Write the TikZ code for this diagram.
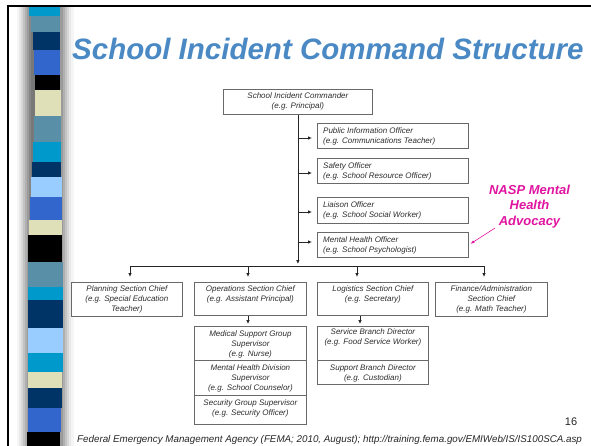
\documentclass[tikz,border=0pt]{standalone}
\usepackage{fontspec}
\setmainfont{Liberation Sans}
\usetikzlibrary{arrows.meta,calc}
\definecolor{titleblue}{RGB}{74,137,196}
\definecolor{naspcol}{RGB}{224,20,160}
\definecolor{sCyan}{RGB}{0,153,204}
\definecolor{sSteel}{RGB}{90,143,168}
\definecolor{sNavy}{RGB}{0,51,102}
\definecolor{sRoyal}{RGB}{51,102,204}
\definecolor{sKhaki}{RGB}{224,224,184}
\definecolor{sLight}{RGB}{153,204,255}
\definecolor{boxline}{RGB}{105,105,105}
\definecolor{txtgray}{RGB}{45,45,45}
\definecolor{sh1}{RGB}{245,245,245}
\definecolor{sh2}{RGB}{232,232,232}
\definecolor{sh3}{RGB}{215,215,215}
\definecolor{sh4}{RGB}{195,195,195}
\definecolor{sh5}{RGB}{175,175,175}
\definecolor{sh6}{RGB}{155,155,155}
\definecolor{sh7}{RGB}{135,135,135}
\definecolor{sh8}{RGB}{120,120,120}
\begin{document}
\begin{tikzpicture}[x=1pt,y=-1pt,
  box/.style={draw=boxline, line width=0.8pt, fill=white, rectangle, inner sep=0pt, anchor=north west},
  btxt/.style={font=\fontsize{8}{10}\selectfont\itshape, text=txtgray, inner sep=0pt, align=center, anchor=north},
  ltxt/.style={btxt, align=left, anchor=north west},
  conn/.style={draw=black!85, line width=0.8pt},
  arr/.style={conn, -{Latex[length=4pt,width=3.6pt]}},
]
\useasboundingbox (0,0) rectangle (591,446);
% side strip shadows
\fill[sh1] (17,7) rectangle (19,446);
\fill[sh2] (19,7) rectangle (21,446);
\fill[sh3] (21,7) rectangle (23,446);
\fill[sh4] (23,7) rectangle (25,446);
\fill[sh5] (25,7) rectangle (27,446);
\fill[sh6] (27,7) rectangle (29,446);
\fill[sh7] (29,7) rectangle (31,446);
\fill[sh8] (31,7) rectangle (36,446);
\fill[sh6] (57,7) rectangle (63,446);
\fill[sh5] (63,7) rectangle (65,446);
\fill[sh4] (65,7) rectangle (67,446);
\fill[sh3] (67,7) rectangle (69,446);
\fill[sh2] (69,7) rectangle (71,446);
\fill[sh1] (71,7) rectangle (74,446);
% stripes
\foreach \a/\b/\l/\r/\c in {7/16/29/60/sCyan, 16/32/31/60/sSteel, 32/50/33/60/sNavy,
  50/75/34/60/sRoyal, 75/90/35/60/black, 90/116/35/61/sKhaki, 116/142/34/61/sSteel,
  142/162/33/61/sCyan, 162/177/32/61/sNavy, 177/197/31/62/sLight, 197/220/30/62/sRoyal,
  220/235/29/62/sKhaki, 235/262/28/62/black, 262/287/28/63/sSteel, 287/300/28/63/sCyan,
  300/328/28/63/sNavy, 328/353/28/63/sLight, 353/372/28/63/sCyan, 372/388/28/62/sKhaki,
  388/408/28/62/sNavy, 408/432/28/61/sRoyal, 432/446/27/60/black}
  \fill[\c] (\l,\a) rectangle (\r,\b);
% frame
\draw[line width=2pt] (8,446) -- (8,6) -- (591,6);

% title
\node[font=\fontsize{29.5}{30}\selectfont\bfseries\itshape, text=titleblue, inner sep=0pt, anchor=base west] (title) at (72,60) {School Incident Command Structure};

% commander
\node[box, minimum width=149pt, minimum height=25pt] (cmd) at (223,89) {};
\node[btxt] (cmdt) at ([yshift=-4pt]cmd.north) {School Incident Commander\\(e.g. Principal)};

% command staff
\node[box, minimum width=151pt, minimum height=25pt] (pio) at (317,123) {};
\node[ltxt] (piot) at ([xshift=6pt,yshift=-5pt]pio.north west) {Public Information Officer\\(e.g. Communications Teacher)};
\node[box, minimum width=151pt, minimum height=25pt] (safe) at (317,158) {};
\node[ltxt] (safet) at ([xshift=6pt,yshift=-5pt]safe.north west) {Safety Officer\\(e.g. School Resource Officer)};
\node[box, minimum width=151pt, minimum height=26pt] (liai) at (317,197) {};
\node[ltxt] (liait) at ([xshift=6pt,yshift=-5pt]liai.north west) {Liaison Officer\\(e.g. School Social Worker)};
\node[box, minimum width=151pt, minimum height=25pt] (mho) at (317,232) {};
\node[ltxt] (mhot) at ([xshift=6pt,yshift=-5pt]mho.north west) {Mental Health Officer\\(e.g. School Psychologist)};

% sections
\node[box, minimum width=111pt, minimum height=34pt] (plan) at (71,282) {};
\node[btxt] (plant) at ([yshift=-3.5pt]plan.north) {Planning Section Chief\\(e.g. Special Education\\Teacher)};
\node[box, minimum width=112pt, minimum height=33pt] (ops) at (194,282) {};
\node[btxt] (opst) at ([yshift=-3.5pt]ops.north) {Operations Section Chief\\(e.g. Assistant Principal)};
\node[box, minimum width=111pt, minimum height=33pt] (logi) at (317,282) {};
\node[btxt] (logit) at ([yshift=-3.5pt]logi.north) {Logistics Section Chief\\(e.g. Secretary)};
\node[box, minimum width=112pt, minimum height=34pt] (fin) at (435,282) {};
\node[btxt] (fint) at ([yshift=-3.5pt]fin.north) {Finance/Administration\\Section Chief\\(e.g. Math Teacher)};

% operations stack
\node[box, minimum width=112pt, minimum height=34pt] (med) at (194,326) {};
\node[btxt] (medt) at ([yshift=-4.3pt]med.north) {Medical Support Group\\Supervisor\\(e.g. Nurse)};
\node[box, minimum width=112pt, minimum height=35pt] (mhd) at (194,360) {};
\node[btxt] (mhdt) at ([yshift=-4.3pt]mhd.north) {Mental Health Division\\Supervisor\\(e.g. School Counselor)};
\node[box, minimum width=112pt, minimum height=29pt] (sec) at (194,395) {};
\node[btxt] (sect) at ([yshift=-4.3pt]sec.north) {Security Group Supervisor\\(e.g. Security Officer)};

% logistics stack
\node[box, minimum width=111pt, minimum height=34pt] (svc) at (317,326) {};
\node[btxt] (svct) at ([yshift=-2.5pt]svc.north) {Service Branch Director\\(e.g. Food Service Worker)};
\node[box, minimum width=111pt, minimum height=24pt] (sup) at (317,360) {};
\node[btxt] (supt) at ([yshift=-4.3pt]sup.north) {Support Branch Director\\(e.g. Custodian)};

% connectors
\coordinate (busL) at (130,266);
\coordinate (busR) at (484,266);
\coordinate (b2) at (248,266);
\coordinate (b3) at (357,266);
\coordinate (l2) at (360,320);
\draw[conn] (busL) -- (busR);
\draw[arr, shorten >=2pt] (cmd.south) -- (cmd.south |- busL);
\draw[arr, shorten >=5pt] (cmd.south |- 0,138) -- (pio.west |- 0,138);
\draw[arr, shorten >=5pt] (cmd.south |- 0,173) -- (safe.west |- 0,173);
\draw[arr, shorten >=5pt] (cmd.south |- 0,212) -- (liai.west |- 0,212);
\draw[arr, shorten >=5pt] (cmd.south |- 0,242) -- (mho.west |- 0,242);
\draw[arr, shorten >=5pt] (busL) -- (busL |- plan.north);
\draw[arr, shorten >=5pt] (b2) -- (b2 |- ops.north);
\draw[arr, shorten >=5pt] (b3) -- (b3 |- logi.north);
\draw[arr, shorten >=5pt] (busR) -- (busR |- fin.north);
\draw[arr, shorten >=2pt] (b2 |- ops.south) -- (b2 |- med.north);
\draw[arr, shorten >=2pt] (l2 |- logi.south) -- (l2 |- svc.north);

% NASP annotation
\node[font=\fontsize{13}{15.5}\selectfont\bfseries\itshape, text=naspcol, align=center, inner sep=0pt, anchor=north] (nasp) at (529.5,184.6) {NASP Mental\\Health\\Advocacy};
\draw[naspcol, line width=0.6pt, -{Latex[length=4pt,width=3pt]}, shorten >=2pt] ([xshift=6pt]nasp.south west) -- (mho.east);

% page number and footer
\node[font=\fontsize{11}{12}\selectfont, text=black!85, inner sep=0pt, anchor=base] (pg) at (571,425) {16};
\node[font=\fontsize{9.8}{11}\selectfont\itshape, text=black!85, inner sep=0pt, anchor=base west] (foot) at (77,442) {Federal Emergency Management Agency (FEMA; 2010, August); http://training.fema.gov/EMIWeb/IS/IS100SCA.asp};
\end{tikzpicture}
\end{document}
